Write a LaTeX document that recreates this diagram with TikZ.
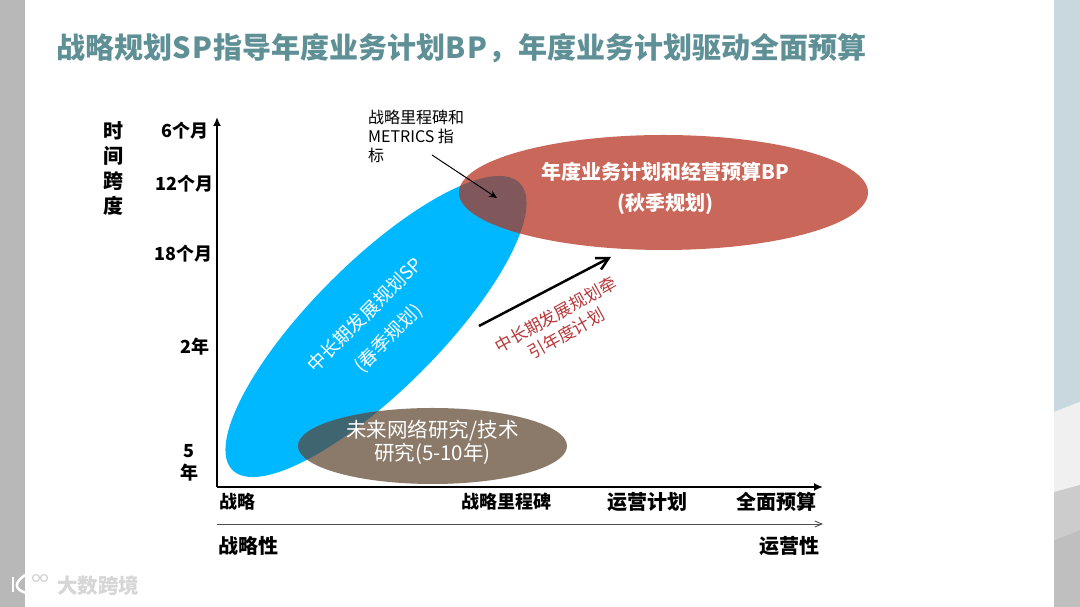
\documentclass[tikz,border=0pt]{standalone}
\usepackage{fontspec}
\setmainfont{Noto Sans CJK SC}
\usepackage{xcolor}
\usetikzlibrary{arrows.meta,shapes.geometric}

\definecolor{titleteal}{HTML}{5E9096}
\definecolor{planblue}{HTML}{00B8FF}
\definecolor{planred}{HTML}{C9675A}
\definecolor{planbrown}{HTML}{8B7A69}
\definecolor{mixred}{HTML}{80585C}
\definecolor{mixbrown}{HTML}{3F6670}
\definecolor{pullred}{HTML}{B8383A}
\definecolor{bandblue}{HTML}{C9D8DE}

\tikzset{
  axislabel/.style={font=\fontsize{18}{22}\selectfont\bfseries, text=black, inner sep=0pt},
  biglabel/.style={font=\fontsize{20}{24}\selectfont\bfseries, text=black, inner sep=0pt},
  inlabel/.style={text=white, align=center, inner sep=0pt},
  blob/.style={ellipse, inner sep=0pt, outer sep=0pt}
}

\begin{document}
\begin{tikzpicture}[x=1pt, y=1pt]
\useasboundingbox (0,0) rectangle (1080,607);
\fill[white] (0,0) rectangle (1080,607);
\fill[black!28] (0,0) rectangle (25,607);
\fill[bandblue] (1054,195) -- (1080,205) -- (1080,607) -- (1054,607) -- cycle;
\fill[black!6] (1054,115) -- (1080,122) -- (1080,205) -- (1054,195) -- cycle;
\fill[black!20] (1054,67) -- (1080,77) -- (1080,122) -- (1054,115) -- cycle;
\fill[black!25] (1054,0) -- (1080,0) -- (1080,77) -- (1054,67) -- cycle;

\node[blob, fill=planblue, minimum width=406pt, minimum height=128pt, rotate=45] (planSP) at (376,280.5) {};
\node[blob, fill=planred, minimum width=409pt, minimum height=115pt] (planBP) at (663.5,414.5) {};
\node[blob, fill=planbrown, minimum width=269pt, minimum height=76pt] (planFuture) at (432.5,161) {};

\begin{scope}
\clip (376,280.5) circle [x radius=203, y radius=64, rotate=45];
\fill[mixred] (663.5,414.5) circle [x radius=204.5, y radius=57.5];
\fill[mixbrown] (432.5,161) circle [x radius=134.5, y radius=38];
\end{scope}

\node[anchor=west, inner sep=0pt, text=titleteal, font=\fontsize{29}{32}\selectfont\bfseries] (title) at (56,558.5) {战略规划S\kern2pt P\kern1pt 指导年度业务计划B\kern2pt P\kern1pt ，\kern1pt 年度业务计划驱动全面预算};

\node[inlabel, rotate=45, font=\fontsize{18.5}{33}\selectfont] (labelSP) at (377,280) {中长期发展规划SP\\(春季规划)};
\node[inlabel, font=\fontsize{20}{31}\selectfont\bfseries] (labelBP) at (665.5,419) {年度业务计划和经营预算BP\\(秋季规划)};
\node[inlabel, font=\fontsize{20.5}{23}\selectfont] (labelFuture) at (432.5,165) {未来网络研究/技术\\研究(5-10年)};

\node[biglabel, font=\fontsize{20}{25}\selectfont\bfseries, align=center] (axisY) at (113,439) {时\\间\\跨\\度};
\node[axislabel, anchor=east] (m6) at (209,476) {6个月};
\node[axislabel, anchor=east] (m12) at (214,423) {12个月};
\node[axislabel, anchor=east] (m18) at (213,353) {18个月};
\node[axislabel, anchor=east] (y2) at (210,260) {2年};
\node[axislabel, align=center] (y5) at (189,144) {5\\年};

\coordinate (origin) at (217,120);
\coordinate (topY) at (217,490);
\coordinate (endX) at (823,120);
\draw[line width=2pt, -{Latex[length=9pt,width=8pt]}] (origin) -- (topY);
\draw[line width=2pt, -{Latex[length=9pt,width=8pt]}] (origin) -- (endX);

\node[axislabel, anchor=west] (xStrategy) at (219,105) {战略};
\node[axislabel] (xMilestone) at (506,105) {战略里程碑};
\node[biglabel] (xOps) at (647.5,105) {运营计划};
\node[biglabel] (xBudget) at (776,105) {全面预算};

\coordinate (scaleL) at (217,83);
\coordinate (scaleR) at (823,83);
\draw[black!70, line width=0.9pt, -{Straight Barb[length=7pt,width=6pt]}] (scaleL) -- (scaleR);
\node[biglabel, anchor=west] (strategic) at (218,61) {战略性};
\node[biglabel, anchor=east] (operational) at (820,61) {运营性};

\node[anchor=north west, inner sep=0pt, align=left, font=\fontsize{16}{19}\selectfont] (note) at (368,497) {战略里程碑和\\METRICS 指\\标};
\coordinate (noteTail) at (432,452);
\coordinate (noteTip) at (497,409);
\draw[line width=1pt, -{Stealth[length=8pt,width=7pt]}] (noteTail) -- (noteTip);

\coordinate (pullTail) at (479,281);
\coordinate (pullTip) at (611,350);
\draw[line width=2.5pt, -{Straight Barb[length=12pt,width=13pt]}] (pullTail) -- (pullTip);
\node[inner sep=0pt, align=center, text=pullred, rotate=29, font=\fontsize{17}{22}\selectfont] (pullLabel) at (561,283) {中长期发展规划牵\\引年度计划};

\draw[white, line width=2.5pt] (13,30) -- (13,15);
\draw[white, line width=2.5pt] (25,32) .. controls (14,24) and (14,18) .. (26,14);
\draw[black!18, line width=1.2pt] (36,29) circle (3.5) (44,29) circle (3.5);
\node[inner sep=0pt, text=black!16, font=\fontsize{20.5}{24}\selectfont\bfseries] (mark) at (98,21) {大数跨境};
\end{tikzpicture}
\end{document}
